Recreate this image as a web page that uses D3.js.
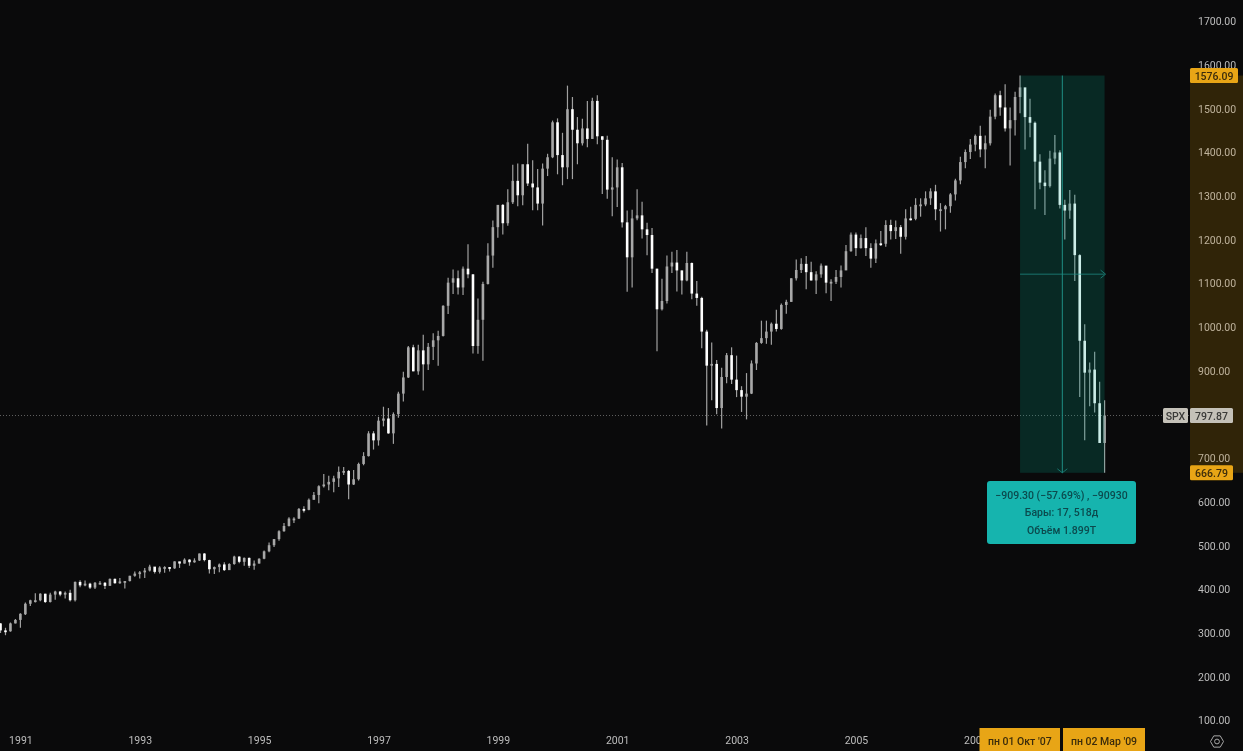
<!DOCTYPE html>
<html><head><meta charset="utf-8">
<script src="https://cdn.jsdelivr.net/npm/d3@7"></script>
<style>
html,body{margin:0;padding:0;background:#0a0a0b;overflow:hidden}
svg{display:block}
text{font-family:Roboto,"Open Sans",sans-serif}
</style></head><body>
<svg id="c" width="1243" height="751"></svg>
<script>
// Monthly candles, first bar Sep 1990, last bar Mar 2009 (index 0 = Jan 1991)
const firstIndex = -4;
const opens = [322,306,304,322,
 330,343,367,375,375,390,371,388,395,388,392,375,
 417,409,413,404,415,415,408,424,414,418,419,431,
 436,439,443,452,440,450,451,448,464,459,468,462,
 466,482,467,446,451,457,444,458,475,463,472,454,
 459,470,487,501,515,533,545,562,562,584,582,605,
 616,636,640,646,654,669,671,640,652,687,705,757,
 741,786,791,757,801,848,885,954,899,947,915,955,
 970,980,1049,1102,1112,1091,1134,1121,957,1017,1099,1164,
 1229,1280,1238,1286,1335,1302,1373,1329,1320,1283,1363,1389,
 1469,1394,1366,1499,1452,1421,1455,1431,1518,1437,1429,1315,
 1320,1366,1240,1160,1249,1256,1224,1211,1134,1041,1060,1139,
 1148,1130,1107,1147,1077,1067,990,912,916,815,886,936,
 880,856,841,848,917,964,975,990,1008,996,1051,1058,
 1112,1131,1145,1126,1107,1121,1141,1102,1104,1115,1130,1174,
 1212,1181,1204,1181,1157,1192,1191,1234,1220,1229,1207,1249,
 1248,1280,1281,1295,1311,1270,1270,1277,1304,1336,1378,1401,
 1418,1438,1407,1421,1482,1531,1503,1455,1474,1527,1549,1481,
 1468,1379,1331,1323,1386,1400,1280,1267,1283,1165,969,896,
 903,826,735];
const closes = [306,304,322,330,
 344,367,375,375,390,371,388,395,388,392,375,417,
 409,413,404,415,415,408,424,414,418,419,431,436,
 439,443,452,440,450,451,448,464,459,468,462,466,
 482,467,446,451,457,444,458,475,463,472,454,459,
 470,487,501,515,533,545,562,562,584,582,605,616,
 636,640,646,654,669,671,640,652,687,705,757,741,
 786,791,757,801,848,885,954,899,947,915,955,970,
 980,1049,1102,1112,1091,1134,1121,957,1017,1099,1164,1229,
 1280,1238,1286,1335,1302,1373,1329,1320,1283,1363,1389,1469,
 1394,1366,1499,1452,1421,1455,1431,1518,1437,1429,1315,1320,
 1366,1240,1160,1249,1256,1224,1211,1134,1041,1060,1139,1148,
 1130,1107,1147,1077,1067,990,912,916,815,886,936,880,
 856,841,848,917,964,975,990,1008,996,1051,1058,1112,
 1131,1145,1126,1107,1121,1141,1102,1104,1115,1130,1174,1212,
 1181,1204,1181,1157,1192,1191,1234,1220,1229,1207,1249,1248,
 1280,1281,1295,1311,1270,1270,1277,1304,1336,1378,1401,1418,
 1438,1407,1421,1482,1531,1503,1455,1474,1527,1549,1481,1468,
 1379,1331,1323,1386,1400,1280,1267,1283,1165,969,896,903,
 826,735,798];
const highs = [323,312,324,332,
 345,370,376,391,391,390,392,397,396,395,399,418,
 421,420,415,417,419,417,425,425,426,419,431,441,
 442,449,456,449,453,453,451,464,463,471,469,471,
 482,483,468,452,459,462,460,477,476,473,473,466,
 471,489,507,515,535,552,565,565,586,590,608,623,
 638,664,660,660,681,680,673,673,690,714,762,762,
 795,818,815,805,852,898,957,960,960,983,964,986,
 992,1050,1113,1132,1130,1139,1190,1122,1066,1104,1192,1244,
 1280,1282,1316,1372,1375,1372,1420,1382,1362,1375,1397,1473,
 1478,1445,1553,1527,1481,1477,1518,1525,1531,1437,1438,1389,
 1384,1376,1267,1269,1316,1287,1239,1227,1134,1111,1164,1173,
 1177,1130,1173,1148,1106,1070,994,965,925,907,941,954,
 935,865,895,924,966,1015,1015,1011,1040,1054,1063,1112,
 1155,1158,1163,1150,1128,1146,1140,1110,1131,1141,1188,1217,
 1217,1212,1229,1192,1201,1220,1245,1246,1244,1234,1270,1276,
 1295,1295,1311,1318,1326,1284,1280,1307,1340,1390,1407,1431,
 1441,1461,1439,1498,1535,1541,1556,1503,1539,1576,1545,1523,
 1471,1396,1359,1404,1440,1405,1292,1314,1303,1167,1007,919,
 944,875,833];
const lows = [300,295,303,322,
 312,341,362,370,373,369,370,376,384,379,372,372,
 405,407,401,401,411,401,408,413,413,402,418,429,
 425,426,441,436,436,438,441,447,449,459,454,461,
 465,464,436,435,439,442,444,456,460,454,449,445,
 459,469,485,497,511,532,544,552,561,576,581,605,
 597,633,627,622,634,662,606,639,649,684,704,720,
 729,773,756,733,793,830,884,899,891,855,902,925,
 912,979,1030,1076,1075,1074,1112,940,939,923,1098,1136,
 1205,1212,1232,1282,1277,1279,1323,1268,1268,1233,1346,1387,
 1350,1325,1339,1339,1373,1416,1412,1431,1419,1305,1294,1254,
 1275,1228,1081,1091,1245,1203,1165,1124,945,1038,1054,1124,
 1082,1075,1105,1064,1049,952,775,833,801,768,872,870,
 840,806,789,847,902,962,962,960,990,994,1031,1058,
 1107,1124,1087,1107,1076,1113,1078,1060,1099,1091,1131,1173,
 1163,1180,1163,1136,1147,1186,1184,1201,1202,1168,1201,1244,
 1245,1253,1277,1280,1245,1219,1224,1262,1290,1327,1364,1385,
 1403,1389,1364,1416,1476,1484,1448,1370,1439,1490,1407,1435,
 1270,1316,1257,1320,1373,1272,1201,1248,1106,840,741,819,
 805,735,667];
const yearLabels = ["1991","1993","1995","1997","1999","2001","2003","2005","2007"];
const yearIdx = [0,24,48,72,96,120,144,168,192];
const priceTicks = [100,200,300,400,500,600,700,900,1000,1100,1200,1300,1400,1500,1600,1700];
const topPrice = 1576.09, bottomPrice = 666.79, lastPrice = 797.87;
const startIdx = 201, endIdx = 218;
const dateTags = ["пн 01 Окт '07","пн 02 Мар '09"];
const infoLines = ["−909.30 (−57.69%) , −90930","Бары: 17, 518д","Объём 1.899T"];

const svg = d3.select("#c");
const W = 1243, H = 751;
const x = d3.scaleLinear().domain([0,218]).range([20.4,1104.6]);
const y = d3.scaleLinear().domain([100,1700]).range([720.4,21.4]);

svg.append("rect").attr("width",W).attr("height",H).attr("fill","#0a0a0b");
const defs = svg.append("defs");
defs.append("filter").attr("id","soft").attr("x","-2%").attr("y","-2%").attr("width","104%").attr("height","104%")
  .append("feGaussianBlur").attr("stdDeviation",0.4);
defs.append("filter").attr("id","softT").attr("x","-5%").attr("y","-5%").attr("width","110%").attr("height","110%")
  .append("feGaussianBlur").attr("stdDeviation",0.3);

// last-price dotted line
svg.append("line").attr("x1",0).attr("x2",1190).attr("y1",y(lastPrice)).attr("y2",y(lastPrice))
  .attr("stroke","#606060").attr("stroke-width",1).attr("stroke-dasharray","1 2");

// candles
const bars = closes.map((c,i)=>({i:i+firstIndex,o:opens[i],h:highs[i],l:lows[i],c}));
const g = svg.append("g").attr("filter","url(#soft)");
g.selectAll("line.w").data(bars).join("line").attr("class","w")
  .attr("x1",d=>x(d.i)).attr("x2",d=>x(d.i)).attr("y1",d=>y(d.h)).attr("y2",d=>y(d.l))
  .attr("stroke","#a0a0a0").attr("stroke-width",1.2);
g.selectAll("rect.b").data(bars).join("rect").attr("class","b")
  .attr("x",d=>x(d.i)-1.3).attr("width",2.6)
  .attr("y",d=>y(Math.max(d.o,d.c))).attr("height",d=>Math.max(1.8,Math.abs(y(d.o)-y(d.c))))
  .attr("fill",d=>d.c>=d.o?"#a8a8a8":"#ffffff");

// measurement box
const bx0=x(startIdx), bx1=x(endIdx), by0=y(topPrice), by1=y(bottomPrice);
svg.append("rect").attr("x",bx0).attr("y",by0).attr("width",bx1-bx0).attr("height",by1-by0)
  .attr("fill","rgba(0,165,140,0.2)");
const mx=(bx0+bx1)/2, my=(by0+by1)/2;
const tl="#1f8f85";
svg.append("line").attr("x1",mx).attr("x2",mx).attr("y1",by0).attr("y2",by1).attr("stroke",tl).attr("stroke-width",1);
svg.append("line").attr("x1",bx0).attr("x2",bx1).attr("y1",my).attr("y2",my).attr("stroke",tl).attr("stroke-width",1).attr("stroke-opacity",0.75);
svg.append("path").attr("d",`M${mx-5},${by1-4} L${mx},${by1} L${mx+5},${by1-4}`).attr("fill","none").attr("stroke",tl).attr("stroke-opacity",0.75);
svg.append("path").attr("d",`M${bx1+1-5},${my-4} L${bx1+1},${my} L${bx1+1-5},${my+4}`).attr("fill","none").attr("stroke",tl).attr("stroke-opacity",0.75);

const tg = svg.append("g").attr("filter","url(#softT)");

// price axis
const ay = d3.axisRight(y).tickValues(priceTicks).tickSize(0).tickPadding(0).tickFormat(d3.format(".2f"));
const ag = tg.append("g").attr("transform","translate(1198,0)").call(ay);
ag.select(".domain").remove();
ag.selectAll("text").attr("fill","#bdbdbd").attr("font-size",10.5).style("font-family","Roboto,sans-serif");
// band on price axis
tg.append("rect").attr("x",1190).attr("y",by0).attr("width",53).attr("height",by1-by0).attr("fill","rgba(200,140,15,0.2)");

// time axis
const ax = d3.axisBottom(x).tickValues(yearIdx).tickSize(0).tickPadding(0).tickFormat((d,i)=>yearLabels[i]);
const xg = tg.append("g").attr("transform","translate(0,737)").call(ax);
xg.select(".domain").remove();
xg.selectAll("text").attr("fill","#bdbdbd").attr("font-size",10.5).style("font-family","Roboto,sans-serif");

// price tags
function tag(px,w,h,cy,fill,col,txt,anchorX){
  tg.append("rect").attr("x",px).attr("y",cy-h/2).attr("width",w).attr("height",h).attr("rx",1.5).attr("fill",fill);
  tg.append("text").attr("x",anchorX).attr("y",cy+0.5).attr("dy","0.35em").attr("text-anchor","middle")
    .attr("font-size",10.5).attr("font-weight",500).attr("fill",col).text(txt);
}
const orange="#e8a514", ink="#3b2c0c";
tag(1190,48,15,y(topPrice),orange,ink,d3.format(".2f")(topPrice),1214);
tag(1190,43,15,y(bottomPrice),orange,ink,d3.format(".2f")(bottomPrice),1211.5);
tag(1163,25,15,y(lastPrice),"#c4c1b8","#3a3a38","SPX",1175.5);
tag(1190,43,15,y(lastPrice),"#c4c1b8","#3a3a38",d3.format(".2f")(lastPrice),1211.5);

// info box
tg.append("rect").attr("x",987).attr("y",481).attr("width",149).attr("height",63).attr("rx",3).attr("fill","#14b4ae");
tg.selectAll("text.info").data(infoLines).join("text").attr("class","info")
  .attr("x",1061.5).attr("y",(d,i)=>495+i*17.5).attr("dy","0.35em").attr("text-anchor","middle")
  .attr("font-size",10.5).attr("font-weight",500).attr("fill","#0c4a4d").text(d=>d);

// date tags
[[startIdx,979.5,80.5],[endIdx,1063,82]].forEach((t,i)=>{
  tg.append("rect").attr("x",t[1]).attr("y",728).attr("width",t[2]).attr("height",23).attr("fill",orange);
  tg.append("text").attr("x",t[1]+t[2]/2).attr("y",741.5).attr("dy","0.35em").attr("text-anchor","middle")
    .attr("font-size",10.5).attr("font-weight",500).attr("fill",ink).text(dateTags[i]);
});

// settings icon
const hex=d3.range(6).map(i=>{const a=Math.PI/3*i;return [1217+6.5*Math.cos(a),741.5+6.5*Math.sin(a)];});
tg.append("path").attr("d",d3.line().curve(d3.curveLinearClosed)(hex)).attr("fill","none").attr("stroke","#a8a8a8").attr("stroke-width",1);
tg.append("circle").attr("cx",1217).attr("cy",741.5).attr("r",2.4).attr("fill","none").attr("stroke","#a8a8a8").attr("stroke-width",1);
</script>
</body></html>
